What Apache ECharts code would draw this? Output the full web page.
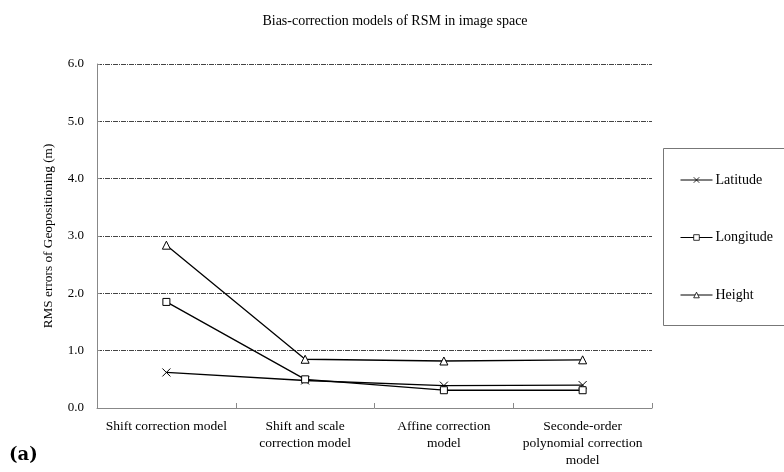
<!DOCTYPE html>
<html>
<head>
<meta charset="utf-8">
<script src="https://cdn.jsdelivr.net/npm/echarts@6/dist/echarts.min.js"></script>
<style>
  html, body { margin: 0; padding: 0; background: #fff; }
  #chart { width: 784px; height: 472px; }
</style>
</head>
<body>
<div id="chart"></div>
<script>
// Bias-correction models and their RMS geopositioning errors (m)
const categories = [
  'Shift correction model',
  'Shift and scale\ncorrection model',
  'Affine correction\nmodel',
  'Seconde-order\npolynomial correction\nmodel'
];
const latitude = [0.62, 0.48, 0.39, 0.40];
const longitude = [1.85, 0.50, 0.31, 0.31];
const height = [2.84, 0.85, 0.82, 0.84];
const yTicks = ['0.0', '1.0', '2.0', '3.0', '4.0', '5.0', '6.0'];

const serif = '"Liberation Serif", "Times New Roman", serif';
const crossPath = 'path://M0,0L10,10M10,0L0,10';

function lineSeries(name, data, symbol, size) {
  return {
    name: name,
    type: 'line',
    data: data,
    symbol: symbol,
    symbolSize: size,
    showAllSymbol: true,
    lineStyle: { color: '#000', width: 1.3 },
    itemStyle: { color: '#fff', borderColor: '#000', borderWidth: 1 },
    emphasis: { disabled: true },
    animation: false
  };
}

const chart = echarts.init(document.getElementById('chart'), null, { renderer: 'canvas' });
chart.setOption({
  backgroundColor: '#fff',
  animation: false,
  title: {
    text: 'Bias-correction models of RSM in image space',
    left: 390,
    textAlign: 'center',
    top: 9,
    textStyle: { fontFamily: serif, fontSize: 14, fontWeight: 'normal', color: '#000' }
  },
  grid: { left: 97, right: 132, top: 64, bottom: 64 },
  legend: {
    orient: 'vertical',
    left: 680,
    top: 173,
    itemGap: 43.5,
    itemWidth: 32,
    itemHeight: 7,
    padding: 0,
    textStyle: { fontFamily: serif, fontSize: 14, color: '#000', padding: [0, 0, 0, -2] },
    itemStyle: { borderWidth: 0.8 },
    lineStyle: { width: 1 },
    data: ['Latitude', 'Longitude', 'Height']
  },
  xAxis: {
    type: 'category',
    data: categories,
    boundaryGap: true,
    axisLine: { lineStyle: { color: '#888', width: 1 } },
    axisTick: { show: true, inside: true, length: 5, lineStyle: { color: '#888' } },
    axisLabel: {
      fontFamily: serif, fontSize: 13.5, color: '#000', margin: 9.5,
      lineHeight: 17, interval: 0, align: 'center'
    }
  },
  yAxis: {
    type: 'value',
    min: 0,
    max: 6,
    interval: 1,
    name: 'RMS errors of Geopositioning (m)',
    nameLocation: 'middle',
    nameGap: 42,
    nameRotate: 90,
    nameTextStyle: { fontFamily: serif, fontSize: 13.3, color: '#000' },
    axisLine: { show: true, lineStyle: { color: '#888', width: 1 } },
    axisTick: { show: true, inside: true, length: 3, lineStyle: { color: '#888' } },
    axisLabel: {
      fontFamily: serif, fontSize: 13, color: '#000', margin: 13,
      formatter: function (v) { return yTicks[Math.round(v)]; }
    },
    splitLine: { show: true, lineStyle: { color: '#444', width: 1, type: [5, 1, 1, 1] } }
  },
  series: [
    lineSeries('Latitude', latitude, crossPath, 8),
    lineSeries('Longitude', longitude, 'rect', 7),
    lineSeries('Height', height, 'triangle', 8)
  ],
  graphic: [
    {
      type: 'rect',
      shape: { x: 663.5, y: 148.5, width: 130, height: 177 },
      style: { fill: 'none', stroke: '#777', lineWidth: 1 },
      silent: true,
      z: -1
    },
    {
      type: 'text',
      left: 9,
      top: 446,
      style: { text: '(a)', fontFamily: '"DejaVu Serif", serif', fontSize: 18, fontWeight: 'bold', fill: '#000' }
    }
  ]
});
</script>
</body>
</html>
